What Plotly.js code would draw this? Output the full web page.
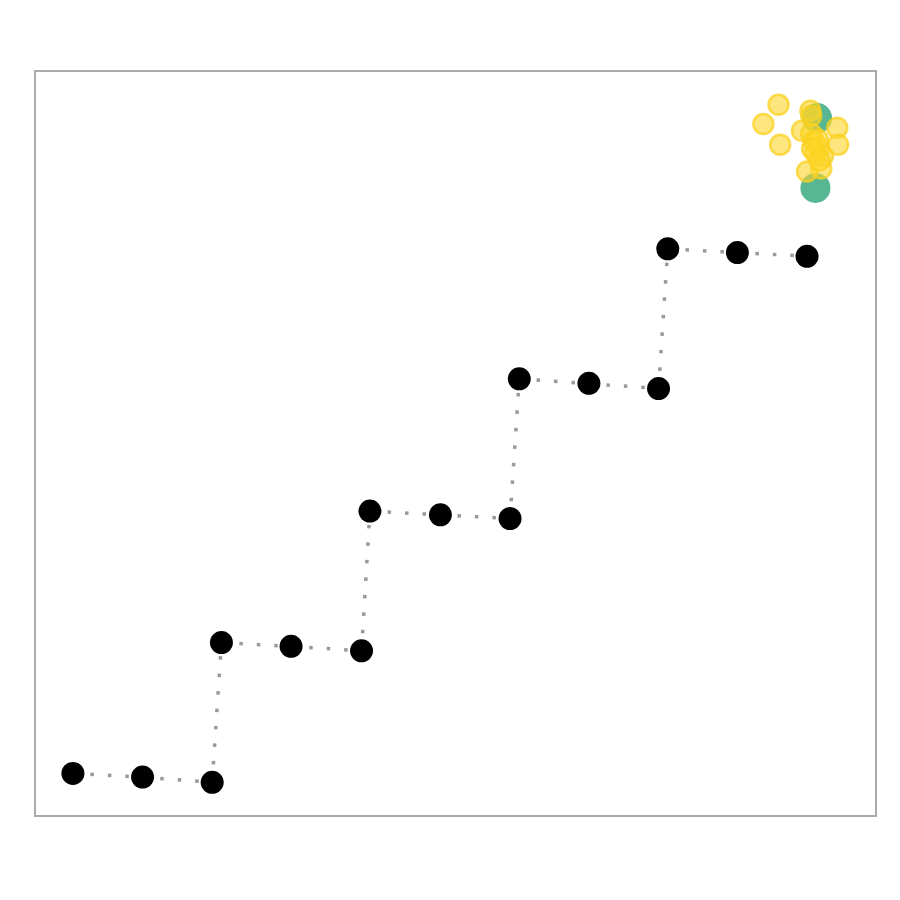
<!DOCTYPE html>
<html><head><meta charset="utf-8">
<script src="https://cdn.plot.ly/plotly-3.0.1.min.js"></script>
<style>html,body{margin:0;padding:0;background:#fff}</style>
</head><body>
<div id="chart" style="width:900px;height:900px"></div>
<script>
const pathX = [4.4, 12.7, 21.0, 22.1, 30.4, 38.8, 39.8, 48.2, 56.5, 57.6, 65.9, 74.2, 75.3, 83.6, 91.9];
const pathY = [5.6, 5.1, 4.4, 23.2, 22.7, 22.1, 40.9, 40.4, 39.9, 58.7, 58.1, 57.4, 76.2, 75.7, 75.2];
const yellowX = [88.5, 86.7, 88.7, 92.3, 92.4, 91.3, 95.5, 95.6, 92.7, 93.3, 92.9, 93.6, 91.9, 92.4, 93.2, 93.8, 92.5, 93.4];
const yellowY = [95.6, 93.0, 90.2, 94.8, 94.1, 92.1, 92.5, 90.2, 90.7, 89.8, 89.1, 87.0, 86.6, 91.7, 90.9, 88.7, 89.7, 88.1];
const greenX = [93.1, 92.9];
const greenY = [93.8, 84.4];

const traces = [
  {x: pathX, y: pathY, mode: 'lines', type: 'scatter',
   line: {color: '#999999', width: 3.5, dash: '3.5px,14px'}, hoverinfo: 'skip'},
  {x: pathX, y: pathY, mode: 'markers', type: 'scatter',
   marker: {color: '#000000', size: 23}},
  {x: greenX, y: greenY, mode: 'markers', type: 'scatter',
   marker: {color: '#3aaa80', size: 30, opacity: 0.85}},
  {x: yellowX, y: yellowY, mode: 'markers', type: 'scatter',
   marker: {color: 'rgba(253,214,40,0.6)', size: 20, line: {color: 'rgba(250,208,30,0.75)', width: 2.5}}}
];
const layout = {
  width: 900, height: 900,
  margin: {l: 36, r: 25, t: 72, b: 85},
  paper_bgcolor: '#ffffff', plot_bgcolor: '#ffffff',
  showlegend: false,
  xaxis: {range: [0, 100], showgrid: false, zeroline: false, showticklabels: false, ticks: '',
          showline: true, mirror: true, linecolor: '#aaaaaa', linewidth: 2},
  yaxis: {range: [0, 100], showgrid: false, zeroline: false, showticklabels: false, ticks: '',
          showline: true, mirror: true, linecolor: '#aaaaaa', linewidth: 2}
};
Plotly.newPlot('chart', traces, layout, {displayModeBar: false});
</script>
</body></html>
